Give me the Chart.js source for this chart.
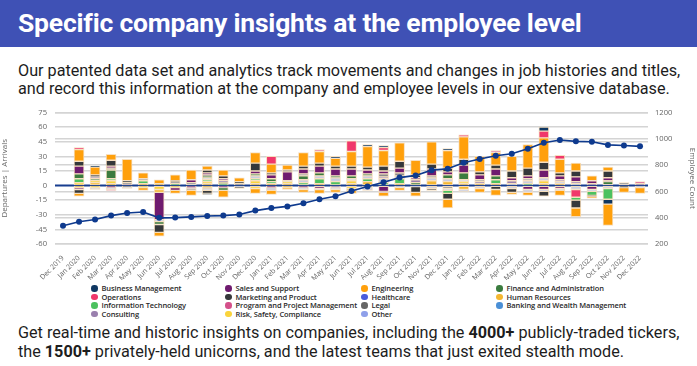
<!DOCTYPE html>
<html>
<head>
<meta charset="utf-8">
<script src="https://cdn.jsdelivr.net/npm/chart.js@4.4.1/dist/chart.umd.min.js"></script>
<style>
  html,body{margin:0;padding:0;background:#fff;}
  body{width:697px;height:366px;position:relative;overflow:hidden;font-family:Roboto,"Noto Sans",sans-serif;}
  #hdr{position:absolute;left:0;top:0;width:697px;height:47px;background:#3f51b5;}
  #hdr h1{margin:0;position:absolute;left:18px;top:6px;color:#fff;font-size:26.5px;line-height:34px;font-weight:700;letter-spacing:-0.2px;white-space:nowrap;}
  .para{position:absolute;left:18px;color:#1d1d1d;font-size:16.2px;line-height:18px;white-space:nowrap;}
  #p1{top:62px;}
  #p2{top:323px;font-size:16.2px;line-height:19px;}
  #wrap{position:absolute;left:0;top:100px;width:697px;height:180px;}
  #legend{position:absolute;left:0;top:284px;width:697px;height:36px;font-family:"Open Sans",sans-serif;font-size:7.5px;font-weight:600;letter-spacing:-0.1px;color:#2a2a2a;}
  .li{position:absolute;white-space:nowrap;line-height:8px;}
  .dot{display:inline-block;width:6.5px;height:6.5px;border-radius:50%;margin-right:4px;vertical-align:-0.5px;}
</style>
</head>
<body>
<div id="hdr"><h1>Specific company insights at the employee level</h1></div>
<div class="para" id="p1">Our patented data set and analytics track movements and changes in job histories and titles,<br>and record this information at the company and employee levels in our extensive database.</div>
<div id="wrap"><canvas id="c"></canvas></div>
<div id="legend"></div>
<div class="para" id="p2">Get real-time and historic insights on companies, including the <b>4000+</b> publicly-traded tickers,<br>the <b>1500+</b> privately-held unicorns, and the latest teams that just exited stealth mode.</div>
<script>
const months = ["Dec 2019","Jan 2020","Feb 2020","Mar 2020","Apr 2020","May 2020","Jun 2020","Jul 2020","Aug 2020","Sep 2020","Oct 2020","Nov 2020","Dec 2020","Jan 2021","Feb 2021","Mar 2021","Apr 2021","May 2021","Jun 2021","Jul 2021","Aug 2021","Sep 2021","Oct 2021","Nov 2021","Dec 2021","Jan 2022","Feb 2022","Mar 2022","Apr 2022","May 2022","Jun 2022","Jul 2022","Aug 2022","Sep 2022","Oct 2022","Nov 2022","Dec 2022"];

const employeeCount = [339,369,386,416,436,443,399,401,406,413,416,424,454,473,486,510,540,563,603,637,670,705,722,762,772,818,846,871,886,924,971,991,981,978,954,949,943];

// Arrivals (positive) per function
const engineeringIn = [0,12,8,6,22,6,4,6,10,4,6,4,11,9,5,14,12,8,15,21,16,19,15,23,18,23,16,13,15,24,25,14,8,5,4,0,0];
const marketingIn   = [0,5,1,6,2,0,0,1,0,3,3,2,8,2,2,3,3,3,3,3,5,7,3,5,4,6,3,4,7,8,8,3,6,0,7,0,0];
const salesIn       = [0,8,0,2,0,0,0,0,3,2,2,0,3,4,9,5,7,7,7,4,3,5,2,7,3,8,5,7,3,3,8,4,5,3,3,0,0];
const financeIn     = [0,5,2,9,0,0,0,0,0,2,1,0,2,3,0,4,3,2,3,2,0,0,3,0,4,7,0,4,0,0,0,0,0,0,3,0,0];
const itIn          = [0,4,0,2,0,3,0,2,0,2,2,0,2,2,0,3,5,4,0,3,3,5,0,0,0,0,0,4,0,2,0,0,0,0,0,0,0];
const hrIn          = [0,1,3,2,0,2,2,0,0,2,0,0,2,2,2,0,2,0,2,4,0,2,0,5,4,2,2,2,0,0,2,2,0,0,0,0,0];
const riskIn        = [0,2,2,3,0,0,0,0,0,2,0,0,3,0,2,0,0,0,3,0,0,0,0,0,0,2,0,0,0,0,3,0,0,0,0,0,0];
const operationsIn  = [0,2,0,0,0,0,0,0,0,0,0,0,0,8,0,0,0,0,11,0,3,0,0,0,0,2,0,0,0,0,7,4,0,0,0,0,0];
const businessIn    = [0,0,1,0,0,0,0,0,0,0,0,0,0,0,0,0,0,2,0,2,2,0,0,0,2,0,0,0,0,0,4,0,0,0,0,0,0];
const legalIn       = [0,0,1,2,2,2,0,2,2,1,0,2,0,0,0,2,0,0,0,0,3,3,0,2,0,0,2,0,0,2,0,0,0,0,0,2,0];
const consultingIn  = [0,0,2,0,1,0,0,0,0,0,2,0,0,0,0,0,0,0,0,0,2,0,3,0,0,0,2,0,3,0,0,2,2,2,1,0,2];
const otherIn       = [0,0,0,0,0,0,0,0,1,2,0,0,3,0,1,3,3,4,2,3,4,3,0,3,3,2,0,0,2,3,3,2,2,0,1,1,0];
const programIn     = [0,0,0,0,0,0,0,0,0,0,0,0,0,0,0,0,2,0,0,0,0,0,0,0,0,0,0,2,0,0,0,0,0,0,0,0,2];

// Departures (negative) per function
const engineeringOut = [0,-3,0,0,0,-3,-4,-3,-5,0,-7,0,-5,-4,-2,-3,-4,-3,-3,0,-4,-3,-4,0,-9,0,-4,-6,-2,-3,0,-5,-9,-2,-22,-5,-6];
const marketingOut   = [0,-4,0,0,0,0,-8,0,0,-3,0,-2,0,0,0,0,0,0,0,0,0,0,-6,-2,-6,0,0,-4,-4,0,-5,0,-8,-1,0,-2,0];
const salesOut       = [0,-2,0,-2,0,0,-28,-3,-2,0,-2,0,0,-2,0,-2,-3,0,0,0,-6,0,0,0,0,0,0,0,0,-4,-4,-3,0,-4,0,0,0];
const hrOut          = [0,-2,0,0,0,0,-3,0,0,-2,0,0,0,0,-2,0,0,0,-2,0,0,0,0,0,0,-4,0,0,0,0,0,0,0,0,0,0,0];
const riskOut        = [0,0,-2,0,0,-2,-4,-2,0,0,0,0,-3,0,0,0,0,0,-3,0,0,0,0,0,0,0,0,0,0,0,0,0,0,0,0,0,0];
const otherOut       = [0,0,-2,-2,-2,0,-2,0,0,-2,0,-1,0,-3,0,-2,-1,-2,0,-3,0,-2,-1,-3,-2,-2,-3,0,-3,-3,-2,-2,-4,-2,-3,0,-2];
const legalOut       = [0,0,0,0,-1,0,0,0,-2,-1,0,0,0,0,0,0,0,0,0,-2,0,0,0,0,-3,0,0,0,0,0,0,0,0,0,0,0,0];
const consultingOut  = [0,0,0,0,0,0,0,0,-1,0,0,0,0,0,0,0,0,-2,0,0,-1,0,0,0,0,0,0,0,0,0,0,0,0,0,0,0,0];
const financeOut     = [0,0,0,0,0,0,-3,0,0,0,-3,0,0,0,0,0,0,0,0,0,0,0,0,0,0,0,0,0,0,0,0,0,0,0,0,0,0];
const itOut          = [0,0,0,0,0,0,0,0,0,0,0,0,0,0,0,0,0,0,0,0,0,0,0,0,-3,0,0,0,0,0,0,0,-3,-4,-11,0,0];
const operationsOut  = [0,0,0,0,0,0,0,0,0,0,0,0,0,0,0,0,0,0,0,0,0,0,0,0,0,0,0,0,0,0,0,0,-8,0,0,0,0];
const businessOut    = [0,0,0,0,0,0,0,0,0,-1,0,0,0,0,0,0,0,0,0,0,0,0,0,0,0,0,0,0,0,0,0,0,0,0,-5,0,0];
const programOut     = [0,0,0,-1,0,0,0,0,0,0,0,0,0,0,0,0,0,0,0,0,0,0,0,0,0,0,0,0,0,0,0,0,0,0,0,0,0];

const legendNames = ["Business Management","Operations","Information Technology","Consulting","Sales and Support","Marketing and Product","Program and Project Management","Risk, Safety, Compliance","Engineering","Healthcare","Legal","Other","Finance and Administration","Human Resources","Banking and Wealth Management"];
const leftTicks = {min:-60, max:75, step:15};
const rightTicks = {min:200, max:1200, step:200};

const COL = {
  "Business Management":"#0f3762","Operations":"#f0386b","Information Technology":"#4cc15f","Consulting":"#9a80ae",
  "Sales and Support":"#6f1b6f","Marketing and Product":"#35383b","Program and Project Management":"#d4508a","Risk, Safety, Compliance":"#fad43c",
  "Engineering":"#ffa00c","Healthcare":"#4a5ddc","Legal":"#8c8c8c","Other":"#c9cde0",
  "Finance and Administration":"#3b7c3f","Human Resources":"#f4b731","Banking and Wealth Management":"#4a8fd6"
};

// HTML legend in 4 columns
const lg = document.getElementById('legend');
const colX = [91,225,361,496];
legendNames.forEach((n,i)=>{
  const col = Math.floor(i/4), row = i%4;
  const d = document.createElement('div');
  d.className='li';
  d.style.left = colX[col]+'px';
  d.style.top = (row*8.5)+'px';
  const legendDot = n==="Other" ? "#8fa0ea" : (n==="Legal" ? "#666666" : COL[n]);
  d.innerHTML = '<span class="dot" style="background:'+legendDot+'"></span>'+n;
  lg.appendChild(d);
});

function bar(name, data){
  return {type:'bar', label:name, data:data, backgroundColor:COL[name], borderColor:'rgba(247,222,190,0.95)', borderWidth:1, borderSkipped:false, stack:'s', yAxisID:'y', order:2, barThickness:10};
}
const datasets = [
  {type:'line', label:'Employee Count', data:employeeCount, yAxisID:'y1', borderColor:'#0e3a8e', backgroundColor:'#0e3a8e', borderWidth:1.6, pointRadius:3, pointBackgroundColor:'#0e3a8e', pointBorderWidth:0, tension:0, order:0},
  bar("Human Resources", hrIn),
  bar("Risk, Safety, Compliance", riskIn),
  bar("Information Technology", itIn),
  bar("Other", otherIn),
  bar("Finance and Administration", financeIn),
  bar("Consulting", consultingIn),
  bar("Legal", legalIn),
  bar("Sales and Support", salesIn),
  bar("Marketing and Product", marketingIn),
  bar("Engineering", engineeringIn),
  bar("Program and Project Management", programIn),
  bar("Operations", operationsIn),
  bar("Business Management", businessIn),
  bar("Risk, Safety, Compliance", riskOut),
  bar("Human Resources", hrOut),
  bar("Sales and Support", salesOut),
  bar("Consulting", consultingOut),
  bar("Legal", legalOut),
  bar("Other", otherOut),
  bar("Operations", operationsOut),
  bar("Information Technology", itOut),
  bar("Finance and Administration", financeOut),
  bar("Marketing and Product", marketingOut),
  bar("Business Management", businessOut),
  bar("Program and Project Management", programOut),
  bar("Engineering", engineeringOut)
];

const zeroLine = {
  id:'zeroLine',
  beforeDatasetsDraw(chart){
    const {ctx, chartArea, scales} = chart;
    const y = scales.y.getPixelForValue(0);
    ctx.save();
    ctx.strokeStyle = '#173d8f';
    ctx.lineWidth = 2;
    ctx.beginPath();
    ctx.moveTo(chartArea.left, y);
    ctx.lineTo(chartArea.right, y);
    ctx.stroke();
    ctx.restore();
  }
};

const tickFont = {family:'"Open Sans",sans-serif', size:7.6};

new Chart(document.getElementById('c'), {
  data:{labels:months, datasets:datasets},
  plugins:[zeroLine],
  options:{
    responsive:true, maintainAspectRatio:false, animation:false,
    layout:{padding:{top:10,left:0,right:0,bottom:0}},
    plugins:{legend:{display:false}, tooltip:{enabled:false}},
    scales:{
      x:{stacked:true, grid:{display:false}, border:{display:false},
         ticks:{autoSkip:false, maxRotation:45, minRotation:45, color:'#666', font:{family:'"Open Sans",sans-serif', size:7.1}, padding:2},
         afterFit(s){ s.height = 36; }},
      y:{stacked:true, position:'left', min:leftTicks.min, max:leftTicks.max,
         ticks:{stepSize:leftTicks.step, color:'#666', font:tickFont, padding:8},
         grid:{color:(c)=> c.tick && c.tick.value===0 ? 'rgba(0,0,0,0)' : '#d4d4d4', lineWidth:1.5, drawTicks:false},
         border:{display:false},
         title:{display:true, text:'Departures | Arrivals', color:'#666', font:{family:'"Open Sans",sans-serif', size:8}, padding:0},
         afterFit(s){ s.width = 55; }},
      y1:{position:'right', min:rightTicks.min, max:rightTicks.max,
         ticks:{stepSize:rightTicks.step, color:'#666', font:tickFont, padding:7, callback:(v)=> String(v)},
         grid:{color:'#d4d4d4', lineWidth:1.5, drawTicks:false},
         border:{display:false},
         title:{display:true, text:'Employee Count', color:'#666', font:{family:'"Open Sans",sans-serif', size:8}, padding:0},
         afterFit(s){ s.width = 49; }}
    }
  }
});
</script>
</body>
</html>
